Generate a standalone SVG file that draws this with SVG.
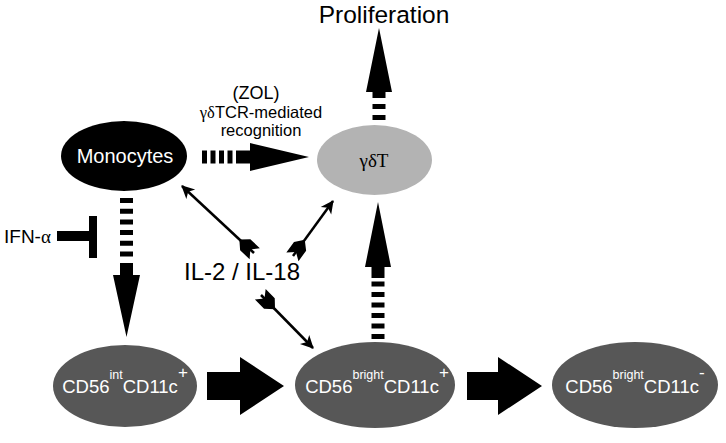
<svg xmlns="http://www.w3.org/2000/svg" width="726" height="443" viewBox="0 0 726 443">
<style>
  .t{font-family:"Liberation Sans",Arial,sans-serif;}
  .g{font-family:"Liberation Serif","Times New Roman",serif;}
  .w{fill:#fff;}
  .k{fill:#000;}
  .dash{stroke:#000;stroke-width:13;fill:none;}
  .thin{stroke:#000;stroke-width:2.5;fill:none;marker-end:url(#head);marker-start:url(#fletch);}
</style>
<defs>
  <marker id="head" markerUnits="userSpaceOnUse" viewBox="-14 -8 16 16" refX="0" refY="0" markerWidth="16" markerHeight="16" orient="auto">
    <path d="M1,0 L-12,-6.5 L-8.5,0 L-12,6.5 Z" fill="#000"/>
  </marker>
  <marker id="fletch" markerUnits="userSpaceOnUse" viewBox="-4 -10 28 20" refX="0" refY="0" markerWidth="28" markerHeight="20" orient="auto">
    <path d="M20,0 L12,-7.5 L-1,-7.5 L5,0 L-1,7.5 L12,7.5 Z" fill="#000"/>
  </marker>
</defs>

<g id="proliferation">
  <text class="t k" x="384" y="23" font-size="24.5" text-anchor="middle">Proliferation</text>
</g>

<g id="monocytes">
  <ellipse cx="124" cy="156" rx="63" ry="35" fill="#000"/>
  <text class="t w" x="125" y="163" font-size="20" text-anchor="middle">Monocytes</text>
</g>

<g id="gdT">
  <ellipse cx="374.5" cy="160" rx="57.5" ry="35" fill="#b3b3b3"/>
  <text class="g k" x="374" y="167" font-size="19" text-anchor="middle">γδT</text>
</g>

<g id="zol-label">
  <text class="t k" x="256" y="99" font-size="18" text-anchor="middle">(ZOL)</text>
  <text class="t k" x="261" y="118" font-size="16.5" text-anchor="middle"><tspan class="g">γδ</tspan>TCR-mediated</text>
  <text class="t k" x="261" y="136" font-size="16.5" text-anchor="middle">recognition</text>
</g>

<g id="ifn">
  <text class="t k" x="4" y="243" font-size="19">IFN-<tspan class="g">α</tspan></text>
  <rect x="57" y="231" width="36" height="10" fill="#000"/>
  <rect x="89" y="216" width="8" height="42" fill="#000"/>
</g>

<g id="il">
  <text class="t k" x="242" y="280" font-size="24" text-anchor="middle">IL-2 / IL-18</text>
</g>

<g id="cd56int">
  <ellipse cx="125" cy="386" rx="72" ry="41" fill="#575757"/>
  <text class="t w" x="125" y="393" font-size="18.5" text-anchor="middle">CD56<tspan font-size="12.5" dy="-14">int</tspan><tspan dy="14">CD11c</tspan><tspan font-size="17" dy="-15">+</tspan></text>
</g>

<g id="cd56bright-pos">
  <ellipse cx="375" cy="385" rx="80" ry="43" fill="#575757"/>
  <text class="t w" x="377" y="393" font-size="18.5" text-anchor="middle">CD56<tspan font-size="12.5" dy="-14">bright</tspan><tspan dy="14">CD11c</tspan><tspan font-size="17" dy="-15">+</tspan></text>
</g>

<g id="cd56bright-neg">
  <ellipse cx="635" cy="385" rx="83" ry="43" fill="#575757"/>
  <text class="t w" x="635" y="393" font-size="18.5" text-anchor="middle">CD56<tspan font-size="12.5" dy="-14">bright</tspan><tspan dy="14">CD11c</tspan><tspan font-size="17" dy="-15">-</tspan></text>
</g>

<g id="connectors">
  <!-- Monocytes -> gdT -->
  <line class="dash" x1="202" y1="157" x2="240" y2="157" stroke-dasharray="5 3.5"/>
  <path d="M240,150.5 H250 V143 L309,157 L250,171 V163.5 H240 Z" fill="#000"/>
  <!-- gdT -> Proliferation -->
  <line class="dash" x1="379" y1="120" x2="379" y2="104" stroke-dasharray="5 6"/>
  <path d="M372.5,98 V92 H366 L379,28 L392,92 H385.5 V98 Z" fill="#000"/>
  <!-- CD56bright -> gdT -->
  <line class="dash" x1="378" y1="339" x2="378" y2="281" stroke-dasharray="5 5.5"/>
  <path d="M371.5,278 V267 H365 L378,202 L391,267 H384.5 V278 Z" fill="#000"/>
  <!-- Monocytes -> CD56int -->
  <line class="dash" x1="126.5" y1="198" x2="126.5" y2="259" stroke-dasharray="5 5.7"/>
  <path d="M120,263 H133 V275 H140 L126.5,337 L113,275 H120 Z" fill="#000"/>
  <!-- bottom block arrows -->
  <path d="M207,372 H240 V357 L284,386 L240,415 V400 H207 Z" fill="#000"/>
  <path d="M467,372 H498 V357 L542,386 L498,415 V400 H467 Z" fill="#000"/>
  <!-- IL-2/IL-18 thin arrows -->
  <line class="thin" x1="254" y1="253" x2="182" y2="186"/>
  <line class="thin" x1="293" y1="256" x2="333" y2="201"/>
  <line class="thin" x1="261" y1="295" x2="313" y2="348"/>
</g>
</svg>
